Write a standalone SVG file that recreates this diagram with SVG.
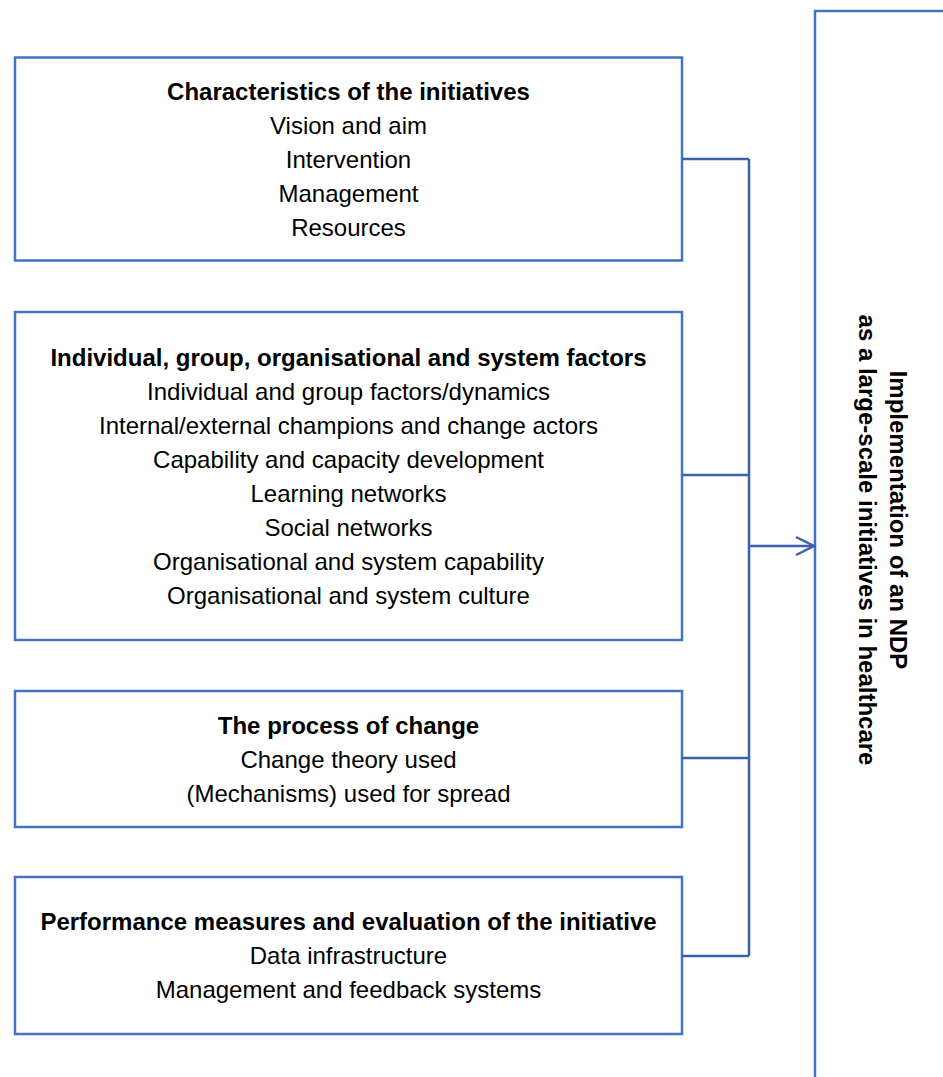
<svg xmlns="http://www.w3.org/2000/svg" width="943" height="1077" viewBox="0 0 943 1077">
<style>
.box{fill:#ffffff;stroke:#4472C4;stroke-width:2.5}
.conn{fill:none;stroke:#3A62AC;stroke-width:2.5}
text{font-family:"Liberation Sans",Arial,sans-serif;font-size:24px;fill:#000000;text-anchor:middle}
.b{font-weight:bold}
</style>
<rect width="943" height="1077" fill="#ffffff"/>
<g id="target">
<rect class="box" x="815" y="11" width="200" height="1100"/>
<text class="b" transform="translate(889.5,520) rotate(90)">Implementation of an NDP</text>
<text class="b" transform="translate(858.5,540) rotate(90)">as a large-scale initiatives in healthcare</text>
</g>
<g id="box1">
<rect class="box" x="15" y="57.5" width="667" height="203"/>
<text class="b" x="348.5" y="99.5">Characteristics of the initiatives</text>
<text x="348.5" y="133.5">Vision and aim</text>
<text x="348.5" y="167.5">Intervention</text>
<text x="348.5" y="201.5">Management</text>
<text x="348.5" y="235.5">Resources</text>
</g>
<g id="box2">
<rect class="box" x="15" y="312" width="667" height="328"/>
<text class="b" x="348.5" y="365.5">Individual, group, organisational and system factors</text>
<text x="348.5" y="399.5">Individual and group factors/dynamics</text>
<text x="348.5" y="433.5">Internal/external champions and change actors</text>
<text x="348.5" y="467.5">Capability and capacity development</text>
<text x="348.5" y="501.5">Learning networks</text>
<text x="348.5" y="535.5">Social networks</text>
<text x="348.5" y="569.5">Organisational and system capability</text>
<text x="348.5" y="603.5">Organisational and system culture</text>
</g>
<g id="box3">
<rect class="box" x="15" y="691" width="667" height="136"/>
<text class="b" x="348.5" y="733.5">The process of change</text>
<text x="348.5" y="767.5">Change theory used</text>
<text x="348.5" y="801.5">(Mechanisms) used for spread</text>
</g>
<g id="box4">
<rect class="box" x="15" y="877" width="667" height="157"/>
<text class="b" x="348.5" y="930">Performance measures and evaluation of the initiative</text>
<text x="348.5" y="964">Data infrastructure</text>
<text x="348.5" y="998">Management and feedback systems</text>
</g>
<g id="connectors">
<path class="conn" d="M682,159 H749 M682,475 H749 M682,758 H749 M682,956 H749 M749,159 V956"/>
<path class="conn" d="M749,546 H814"/>
<path class="conn" d="M796,537 L814,546 L796,555"/>
</g>
</svg>
